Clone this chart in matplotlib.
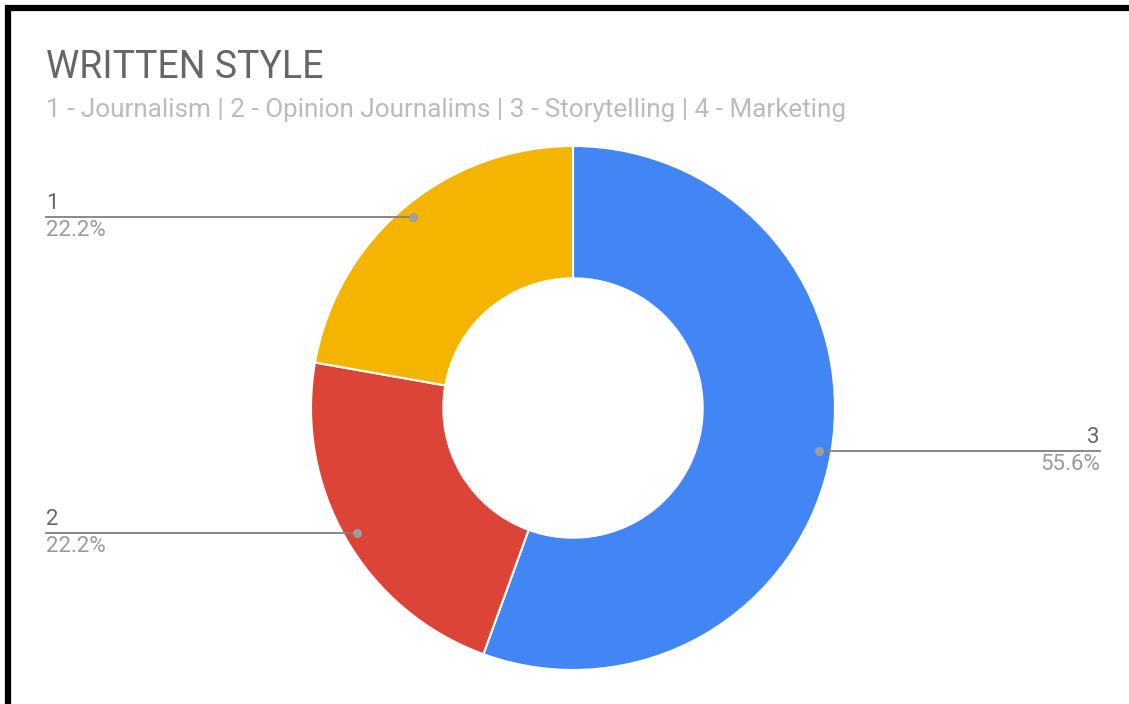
import matplotlib
matplotlib.use("Agg")
import matplotlib.pyplot as plt
import numpy as np

plt.rcParams["font.family"] = ["Roboto", "DejaVu Sans"]

# ---------------------------------------------------------------------------
# Data
# ---------------------------------------------------------------------------
title = "WRITTEN STYLE"
subtitle = "1 - Journalism | 2 - Opinion Journalims | 3 - Storytelling | 4 - Marketing"
labels = ["3", "2", "1"]
counts = [5, 2, 2]
colors = ["#4285F4", "#DB4437", "#F4B400"]

W, H = 1129, 704
fig = plt.figure(figsize=(W / 100, H / 100), dpi=100)
ax = fig.add_axes([0, 0, 1, 1])

# frame on left and top
ax.plot([8, 8, W], [0, H - 8, H - 8], color="black", lw=4.5,
        solid_capstyle="butt", solid_joinstyle="miter")

cx, cy, r = 573, H - 408, 262
wedges, _ = ax.pie(
    counts, colors=colors, startangle=90, counterclock=False,
    center=(cx, cy), radius=r, frame=True,
    wedgeprops=dict(width=r * 0.505, edgecolor="white", linewidth=1.5),
)
ax.set_xlim(0, W)
ax.set_ylim(0, H)
ax.set_aspect("equal")
ax.axis("off")

total = sum(counts)
for w, lab, val in zip(wedges, labels, counts):
    ang = np.deg2rad((w.theta1 + w.theta2) / 2)
    dx, dy = cx + 0.953 * r * np.cos(ang), cy + 0.953 * r * np.sin(ang)
    right = np.cos(ang) > 0
    tx = 1100 if right else 46
    ha = "right" if right else "left"
    ax.plot([dx, tx], [dy, dy], color="#7f7f7f", lw=1.3, zorder=3)
    ax.plot(dx, dy, "o", color="#9e9e9e", ms=5.5, zorder=4)
    ax.text(tx, dy + 3, lab, ha=ha, va="bottom", fontsize=16, color="#666666")
    ax.text(tx, dy - 3, f"{val / total * 100:.1f}%", ha=ha, va="top",
            fontsize=16, color="#9a9a9a")

ax.text(46, H - 78, title, fontsize=27, color="#666666", va="baseline")
ax.text(46, H - 117, subtitle, fontsize=18.8, color="#bbbbbb", va="baseline")

fig.savefig("out.png", dpi=100, facecolor="white")
